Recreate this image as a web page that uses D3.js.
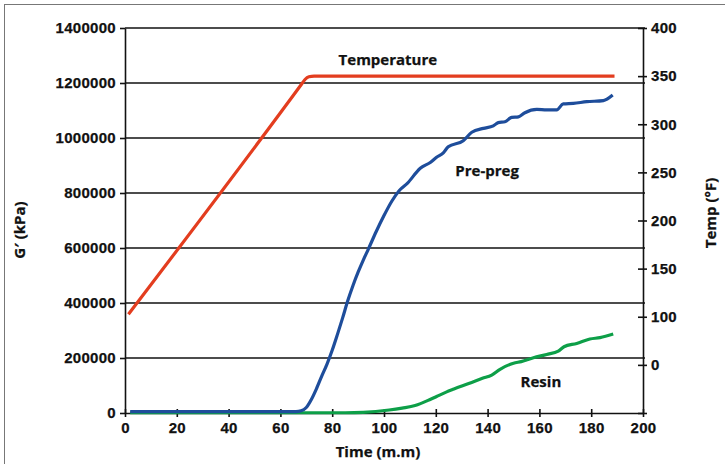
<!DOCTYPE html>
<html>
<head>
<meta charset="UTF-8" />
<script src="https://cdn.jsdelivr.net/npm/d3@7"></script>
<title>G' and Temperature vs Time</title>
<style>
    body { margin: 0; background: white; }
    svg { display: block; font-family: "Open Sans", sans-serif; font-weight: bold; }
    .lbl { font-size: 15px; fill: #111; stroke: #111; stroke-width: 0.25px; }
    .axis text { font-size: 15px; font-weight: bold; fill: #111; stroke: #111; stroke-width: 0.25px; letter-spacing: 0.3px; }
    .axis path, .axis line { stroke: #111; stroke-width: 1.6; }
</style>
</head>
<body>
<div id="chart"></div>
<script>
// time (m.m), temperature (F)
const tempTime = [1.3, 68, 69.5, 71, 73, 189];
const tempVals = [102.5, 341, 346.5, 349.3, 350, 350];

// time, G' (kPa) pre-preg
const prepregTime = [2, 66, 68, 70, 72, 74, 76, 78, 80, 82, 84, 86, 88, 90, 92, 94, 97, 100, 103, 106, 109, 114, 118, 120.3, 122.9, 124.8, 130.6, 133.9, 138.4, 142.2, 144.1, 146.7, 149.3, 151.9, 154.4, 159, 162.8, 166.7, 169.2, 173.1, 178.3, 184.7, 188.3];
const prepregVals = [5000, 5000, 8000, 20000, 50000, 90000, 135000, 178000, 228000, 285000, 345000, 408000, 463000, 512000, 556000, 597000, 660000, 718000, 770000, 810000, 835000, 890000, 912000, 930000, 946000, 968000, 990000, 1021000, 1035000, 1044000, 1056000, 1059000, 1075000, 1077000, 1092000, 1104000, 1102000, 1102000, 1124000, 1126000, 1132000, 1136000, 1156000];

// time, G' (kPa) resin
const resinTime = [2, 85, 92, 102, 107, 112, 118, 120.3, 124, 127, 133, 138, 141.6, 144.8, 150, 153, 157.7, 162.8, 167.3, 169.5, 174.4, 179.5, 183.4, 188.5];
const resinVals = [1000, 1000, 2500, 11000, 18000, 27000, 50000, 60000, 76000, 87000, 108000, 126000, 138000, 159000, 181000, 187000, 201000, 213000, 225000, 241000, 253000, 269000, 274000, 287000];

const xTicks = [0, 20, 40, 60, 80, 100, 120, 140, 160, 180, 200];
const leftTicks = [0, 200000, 400000, 600000, 800000, 1000000, 1200000, 1400000];
const rightTicks = [0, 50, 100, 150, 200, 250, 300, 350, 400];
const rightTickLabels = ["", "0", "100", "150", "200", "250", "300", "350", "400"];

const W = 725, H = 464;
const x = d3.scaleLinear().domain([0, 200]).range([125, 643]);
const yL = d3.scaleLinear().domain([0, 1400000]).range([413, 28]);
const yR = d3.scaleLinear().domain([0, 400]).range([413, 28]);

const svg = d3.select("#chart").append("svg").attr("width", W).attr("height", H);

// frame
svg.append("rect").attr("x", 4.5).attr("y", 4.5).attr("width", 800).attr("height", 800)
    .attr("fill", "none").attr("stroke", "#777").attr("stroke-width", 1);

// gridlines
svg.append("g").selectAll("line").data(leftTicks.slice(1)).enter().append("line")
    .attr("x1", x(0)).attr("x2", x(200) + 2)
    .attr("y1", d => yL(d)).attr("y2", d => yL(d))
    .attr("stroke", "#111").attr("stroke-width", 1.5);

// axes
const gx = svg.append("g").attr("class", "axis").attr("transform", "translate(0," + yL(0) + ")")
    .call(d3.axisBottom(x).tickValues(xTicks).tickSize(4).tickSizeOuter(0).tickPadding(5));
gx.selectAll(".tick line").attr("y1", -4);

svg.append("g").attr("class", "axis").attr("transform", "translate(" + x(0) + ",0)")
    .call(d3.axisLeft(yL).tickValues(leftTicks).tickFormat(d3.format("d")).tickSize(5).tickSizeOuter(0).tickPadding(4));

const gr = svg.append("g").attr("class", "axis").attr("transform", "translate(" + x(200) + ",0)")
    .call(d3.axisRight(yR).tickValues(rightTicks).tickFormat((d, i) => rightTickLabels[i]).tickSize(4).tickSizeOuter(0).tickPadding(4));
gr.selectAll(".tick line").attr("x1", -5);

// lines
const tempLine = d3.line().x(d => x(d[0])).y(d => yR(d[1])).curve(d3.curveMonotoneX);
const gLine = d3.line().x(d => x(d[0])).y(d => yL(d[1])).curve(d3.curveMonotoneX);

svg.append("path").datum(resinTime.map((t, i) => [t, resinVals[i]]))
    .attr("d", gLine).attr("fill", "none").attr("stroke", "#0d9f48").attr("stroke-width", 3.2);
svg.append("path").datum(prepregTime.map((t, i) => [t, prepregVals[i]]))
    .attr("d", gLine).attr("fill", "none").attr("stroke", "#1e4d9b").attr("stroke-width", 3.2);
svg.append("path").datum(tempTime.map((t, i) => [t, tempVals[i]]))
    .attr("d", tempLine).attr("fill", "none").attr("stroke", "#e33d1f").attr("stroke-width", 3.2);

// series labels
svg.append("text").attr("class", "lbl").attr("x", x(101.5)).attr("y", yR(367)).attr("dy", "0.35em")
    .attr("text-anchor", "middle").text("Temperature");
svg.append("text").attr("class", "lbl").attr("x", x(139.8)).attr("y", yL(880000)).attr("dy", "0.35em")
    .attr("text-anchor", "middle").text("Pre-preg");
svg.append("text").attr("class", "lbl").attr("x", x(160.6)).attr("y", yL(112000)).attr("dy", "0.35em")
    .attr("text-anchor", "middle").text("Resin");

// axis titles
svg.append("text").attr("class", "lbl").attr("text-anchor", "middle")
    .attr("transform", "translate(20,230) rotate(-90)").attr("dy", "0.35em").text("G\u2032 (kPa)");
svg.append("text").attr("class", "lbl").attr("text-anchor", "middle")
    .attr("transform", "translate(711,213) rotate(-90)").attr("dy", "0.35em").text("Temp (\u00B0F)");
svg.append("text").attr("class", "lbl").attr("text-anchor", "middle")
    .attr("x", 378).attr("y", 452).attr("dy", "0.35em").text("Time (m.m)");
</script>
</body>
</html>
